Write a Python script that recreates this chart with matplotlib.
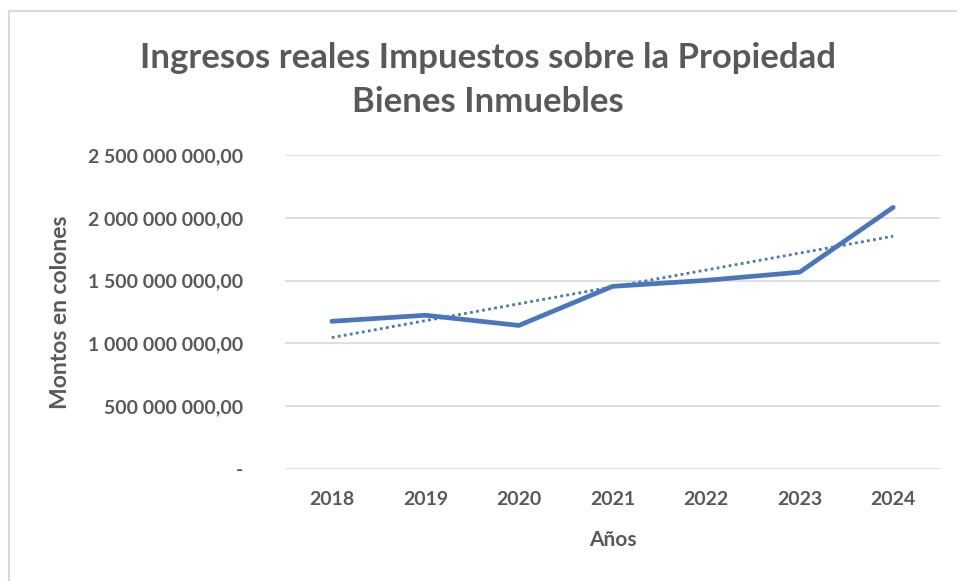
import matplotlib
matplotlib.use('Agg')
import matplotlib.pyplot as plt
import numpy as np
from matplotlib.lines import Line2D
from matplotlib.ticker import FuncFormatter

anios = ['2018', '2019', '2020', '2021', '2022', '2023', '2024']
ingresos = [1.176e9, 1.224e9, 1.143e9, 1.454e9, 1.502e9, 1.567e9, 2.083e9]
y_ticks = [0, 0.5e9, 1.0e9, 1.5e9, 2.0e9, 2.5e9]

plt.rcParams['font.family'] = ['Lato', 'DejaVu Sans']
gris = '#595959'
azul = '#4A76BE'

def fmt_colones(v, pos):
    if v == 0:
        return '-'
    s = f"{v:,.2f}"
    ent, dec = s.split('.')
    return ent.replace(',', ' ') + ',' + dec

fig = plt.figure(figsize=(9.57, 5.81), dpi=100)
# borde del area del grafico (solo arriba e izquierda visibles)
fig.lines.append(Line2D([8.5 / 957, 8.5 / 957], [0, 1 - 10.5 / 581],
                        transform=fig.transFigure, color='#d9d9d9', lw=1.5))
fig.lines.append(Line2D([8.5 / 957, 1], [1 - 10.5 / 581, 1 - 10.5 / 581],
                        transform=fig.transFigure, color='#d9d9d9', lw=1.5))

ax = fig.add_axes([285 / 957, 1 - 469 / 581, (940 - 285) / 957, (469 - 155) / 581])
x = np.arange(len(anios))
ax.plot(x, ingresos, color=azul, lw=3.4, solid_capstyle='round', zorder=3)

# linea de tendencia lineal
coef = np.polyfit(x, ingresos, 1)
ax.plot(x, np.polyval(coef, x), color=azul, lw=2, linestyle=(0, (1, 1.2)), zorder=2)

ax.set_xlim(-0.5, len(anios) - 0.5)
ax.set_ylim(0, 2.5e9)
ax.set_yticks(y_ticks)
ax.yaxis.set_major_formatter(FuncFormatter(fmt_colones))
ax.set_xticks(x)
ax.set_xticklabels(anios)
ax.grid(axis='y', color='#d9d9d9', lw=1.2)
ax.set_axisbelow(True)
for s in ax.spines.values():
    s.set_visible(False)
ax.tick_params(length=0, labelsize=14, labelcolor=gris, pad=16)
ax.tick_params(axis='y', pad=30)
for lab in ax.get_xticklabels() + ax.get_yticklabels():
    lab.set_fontweight('bold')

ax.set_xlabel('Años', fontsize=15, fontweight='bold', color=gris, labelpad=16)
ax.set_ylabel('Montos en colones', fontsize=16.5, fontweight='bold', color=gris, labelpad=12)

fig.text(488 / 957, 1 - 58 / 581, 'Ingresos reales Impuestos sobre la Propiedad',
         ha='center', va='center', fontsize=25, fontweight='bold', color=gris)
fig.text(488 / 957, 1 - 102 / 581, 'Bienes Inmuebles',
         ha='center', va='center', fontsize=25, fontweight='bold', color=gris)

fig.savefig('out.png', dpi=100)
